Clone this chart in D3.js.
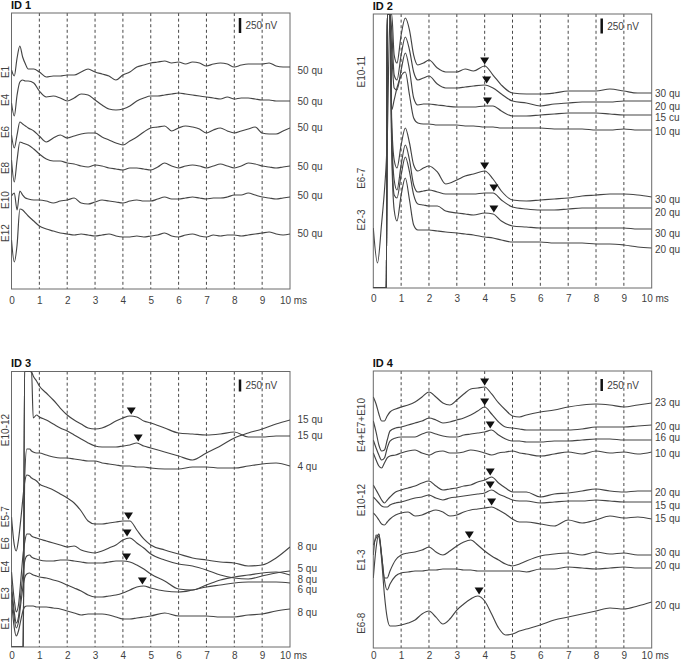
<!DOCTYPE html>
<html><head><meta charset="utf-8">
<script src="https://cdn.jsdelivr.net/npm/d3@7"></script>
<style>
body{margin:0;background:#fff;}
svg{display:block;font-family:"Liberation Sans",Arial,Helvetica,sans-serif;}
</style></head><body>
<svg id="chart" width="685" height="661"></svg>
<script>
// clipped stimulus-artifact levels (nV, far outside the plotted range)
const L = -6000, H = 6000;
const xTicks = [0,1,2,3,4,5,6,7,8,9,10];
const gridTicks = [1,2,3,4,5,6,7,8,9];

// ---------- ID 1 ----------
const T1 = [0,0.1,0.2,0.3,0.4,0.5,0.6,0.8,1,1.25,1.5,1.75,2,2.25,2.5,2.75,3,3.25,3.5,3.75,4,4.25,4.5,4.75,5,5.25,5.5,5.75,6,6.25,6.5,6.75,7,7.25,7.5,7.75,8,8.25,8.5,8.75,9,9.25,9.5,9.75,10];
const id1_E1  = [-50,-150,150,350,167,50,-33,-33,-83,-167,-150,-150,-133,-133,-83,-33,-83,-117,-150,-217,-133,-83,0,33,67,83,100,67,83,50,83,67,17,50,67,50,0,33,50,50,50,67,17,0,0];
const id1_E4  = [-33,-250,100,317,350,333,333,300,167,67,83,50,0,50,117,100,17,-67,-133,-150,-133,-83,0,50,83,83,100,117,133,117,100,83,67,50,33,67,33,50,50,33,17,17,0,0,0];
const id1_E6  = [-100,-317,-100,117,83,50,17,-33,-117,-217,-150,-100,-150,-117,-83,-67,-67,-133,-183,-233,-267,-200,-133,-50,17,33,50,-33,17,50,33,0,-67,-17,17,-33,-67,-33,0,33,-67,-83,-83,-33,17];
const id1_E8  = [100,-267,100,400,383,367,350,283,200,117,83,83,50,33,0,-17,17,0,-33,-50,-67,-33,-33,-50,-67,-17,50,0,-33,0,17,0,-33,0,33,0,-33,0,50,33,0,-17,-33,-17,0];
const id1_E10 = [17,67,-217,100,33,-17,-33,-50,-50,-67,-100,-67,-50,-17,-100,-117,-83,-50,-67,-83,-100,-67,-50,-67,-67,-33,0,-33,-33,-17,0,-17,-33,-17,-17,0,33,33,67,33,0,-17,-33,-17,0];
const id1_E12 = [-83,-450,-167,433,417,367,317,233,150,100,67,33,17,0,17,0,-17,0,17,-17,-33,-33,-17,-33,-17,0,33,-17,-33,0,17,-17,-33,0,-17,0,0,-17,0,17,33,50,17,0,17];
const id1Offsets = [-900,-1467,-1933,-2550,-3067,-3700];
const id1Labels  = ["50 qu","50 qu","50 qu","50 qu","50 qu","50 qu"];
const id1LabelShift = [-50,0,0,0,33,0];
const id1Groups  = [["E1",-983],["E4",-1450],["E6",-1983],["E8",-2583],["E10",-3117],["E12",-3667]];
const id1Markers = [];

// ---------- ID 2 ----------
const T2 = [0,0.15,0.3,0.42,0.47,0.5,0.6,0.66,0.75,0.85,1,1.15,1.3,1.45,1.6,1.8,2,2.3,2.6,3,3.3,3.6,4,4.3,4.6,5,5.5,6,6.5,7,7.5,8,8.5,9,9.5,10];
const id2_A = [L,L,L,L,L,H,H,1317,633,500,967,1250,1050,633,467,500,550,417,350,350,400,367,450,300,133,0,-17,-17,0,33,33,33,67,33,0,0];
const id2_B = [L,L,L,L,L,H,H,1183,433,350,767,1067,850,483,350,383,417,283,217,217,233,250,267,217,117,0,-33,-83,-50,-33,-17,-17,-17,0,0,0];
const id2_C = [L,L,L,L,L,H,H,1083,450,417,750,1033,750,283,167,183,183,167,150,133,133,133,150,150,67,-17,-17,0,17,33,33,33,17,0,0,0];
const id2_D = [L,L,L,L,L,H,H,333,500,700,900,967,583,200,117,100,100,83,83,83,67,67,50,50,33,33,33,33,17,17,17,0,0,17,0,0];
const id2_E = [L,L,L,L,L,H,H,1283,617,483,867,1150,900,533,433,483,517,417,217,283,350,383,433,300,100,-50,-67,-50,-33,-17,17,33,50,50,33,0];
const id2_F = [L,L,L,L,L,H,H,1300,467,300,717,1050,800,383,267,283,300,267,233,233,233,233,250,250,133,17,-17,-33,-33,-17,0,0,0,0,0,0];
const id2_G = [L,L,L,L,L,H,H,1483,567,517,900,1200,950,567,417,400,383,383,300,267,250,233,267,250,133,50,33,17,17,17,17,17,17,17,0,0];
const id2_H = [333,-250,417,1083,1467,1800,H,1633,633,450,883,1167,800,383,300,300,300,283,267,250,233,217,183,167,133,100,100,100,83,83,83,67,67,50,17,0];
const id2Offsets = [-1317,-1450,-1683,-1933,-3050,-3233,-3583,-3900];
const id2Labels  = ["30 qu","20 qu","15 cu","10 qu","30 qu","20 qu","30 qu","20 qu"];
const id2LabelShift = [0,-95,-45,-28,-38,-72,-72,-22];
const id2Groups  = [["E10-11",-962],["E6-7",-2738],["E2-3",-3433]];
const id2Markers = [[0,4.0,450],[1,4.07,267],[2,4.1,150],[4,4.0,433],[5,4.33,250],[6,4.33,250]];

// ---------- ID 3 ----------
const T3 = [0,0.1,0.17,0.25,0.35,0.42,0.47,0.55,0.65,0.72,0.78,0.9,1,1.25,1.5,1.75,2,2.25,2.5,2.75,3,3.25,3.5,3.75,4,4.25,4.5,4.75,5,5.5,6,6.5,7,7.5,8,8.5,9,9.5,10];
const id3_P2 = [L,L,L,L,L,L,H,H,H,H,42,104,63,0,-83,-167,-229,-313,-396,-479,-542,-563,-563,-563,-542,-521,-479,-542,-583,-667,-750,-833,-688,-542,-375,-271,-188,-83,0];
const id3_P1 = [L,L,L,L,L,L,H,H,H,1333,1250,1146,1042,896,750,583,438,333,250,167,146,167,229,313,375,417,396,313,271,167,63,42,21,42,83,-21,-21,0,0];
const id3_Q  = [L,L,L,L,L,L,-292,354,354,313,292,271,271,229,188,167,167,146,125,104,104,63,42,21,0,0,-21,-21,-42,-63,-63,-21,-21,-42,-42,0,42,63,0];
const id3_R  = [625,42,-83,146,667,1083,1333,1500,1479,1438,1417,1375,1313,1250,1188,1104,1021,917,750,542,479,479,500,521,542,542,354,167,42,-63,-146,-229,-271,-313,-333,-396,-375,-229,0];
const id3_S  = [-21,-604,-854,-708,-83,375,583,771,771,729,708,688,667,625,583,542,500,521,438,396,375,417,479,542,646,688,583,479,354,229,146,104,21,-83,-146,-167,-104,-42,0];
const id3_T  = [-208,-771,-1000,-875,-313,63,271,396,417,375,354,333,313,292,292,313,313,292,271,250,250,250,271,292,292,271,208,125,21,-125,-292,-313,-208,-104,-42,0,42,63,0];
const id3_U  = [-188,-729,-938,-813,-354,-42,104,188,208,188,167,146,125,104,63,21,-42,-104,-167,-250,-292,-292,-271,-250,-208,-146,-83,-63,-104,-167,-188,-146,-83,-42,0,21,21,21,0];
const id3_V  = [188,-396,-563,-458,-188,-21,42,63,63,63,63,42,42,42,21,0,-42,-83,-125,-104,-104,-104,-125,-167,-208,-208,-188,-167,-146,-83,-146,-146,-146,-167,-167,-125,-104,-42,0];
const id3Offsets = [-1010,-1344,-1969,-3656,-4156,-4240,-4406,-4948];
const id3Labels  = ["15 qu","15 qu","4 qu","8 qu","5 qu","8 qu","6 qu","8 qu"];
const id3LabelShift = [0,21,0,0,56,-83,-146,-77];
const id3Groups  = [["E10-12",-1219],["E5-7",-3025],["E6",-3579],["E4",-4067],["E3",-4621],["E1",-5246]];
const id3Markers = [[1,4.3,417],[0,4.55,-479],[3,4.2,542],[4,4.15,688],[5,4.13,271],[6,4.7,-63]];

// ---------- ID 4 ----------
const T4 = [0,0.1,0.2,0.3,0.4,0.5,0.6,0.8,1,1.25,1.5,1.75,2,2.25,2.5,2.75,3,3.25,3.5,3.75,4,4.25,4.5,4.75,5,5.25,5.5,6,6.5,7,7.5,8,8.5,9,9.5,10];
const id4_a = [167,21,-188,-333,-333,-229,-146,-83,-42,0,63,167,271,167,42,0,104,229,333,354,375,229,42,-104,-229,-250,-208,-146,-104,-42,0,21,0,-42,0,42];
const id4_b = [83,-146,-417,-542,-521,-313,-125,-63,-42,0,42,83,146,104,42,63,104,146,208,292,375,229,63,-42,-63,-83,-104,-104,-104,-104,-83,-42,-42,-42,-21,0];
const id4_c = [0,-167,-313,-417,-375,-167,-21,42,63,63,63,125,167,125,83,63,63,104,125,146,167,208,104,21,-21,-21,-42,-42,-21,-21,0,21,21,0,0,0];
const id4_d = [0,-146,-271,-313,-208,-104,-63,-42,0,42,63,0,-42,21,42,0,0,21,63,42,0,-42,0,21,42,0,-21,-63,-21,21,-21,42,0,21,-21,21];
const id4_e = [125,21,-83,-188,-250,-188,-125,-21,21,63,104,167,208,104,21,42,63,104,125,188,229,292,167,63,-21,-21,-21,-125,-63,-42,0,42,0,-21,0,0];
const id4_f = [104,42,-21,-83,-104,-104,-63,-21,0,42,83,104,146,83,42,83,104,125,146,167,188,250,167,104,42,21,21,-21,0,21,21,42,21,0,0,0];
const id4_g = [146,83,0,-83,-104,-42,21,104,146,167,83,104,167,208,167,83,104,167,208,229,250,271,208,125,21,-42,-42,-83,-125,0,-63,0,83,42,63,21];
const id4_h = [0,417,375,-21,-479,-479,-333,-104,0,42,63,104,167,63,0,83,188,271,313,208,83,-21,-104,-188,-229,-188,-125,-21,21,42,0,63,21,42,0,0];
const id4_i = [-208,417,708,271,-250,-458,-333,-167,-104,-83,-63,-63,-42,-42,-21,-21,-21,-42,-42,-63,-63,-63,-63,-63,-63,-63,-83,-21,-21,21,0,-21,0,21,0,0];
const id4_j = [1188,1333,1417,875,146,-333,-500,-500,-479,-438,-375,-250,-188,-313,-458,-354,-167,-42,63,125,21,-250,-542,-688,-667,-604,-563,-479,-375,-313,-250,-188,-125,-146,-83,0];
const id4Offsets = [-708,-1125,-1438,-1708,-2500,-2729,-3104,-3833,-4104,-4813];
const id4Labels  = ["23 qu","20 qu","16 qu","10 qu","20 qu","15 qu","15 qu","30 qu","20 qu","20 qu"];
const id4LabelShift = [0,-21,63,-42,-21,-63,0,48,42,-63];
const id4Groups  = [["E4+E7+E10",-1125],["E10-12",-2688],["E1-3",-3938],["E6-8",-5256]];
const id4Markers = [[0,4.0,375],[1,4.0,375],[2,4.2,208],[4,4.2,292],[5,4.2,250],[6,4.25,271],[7,3.45,313],[9,3.8,125]];

// ---------- layout ----------
const layout = [
  {x0:11.5,  x1:290,   top:13,    bottom:289, barPx:15, pad:8, labX:297.5, grpX:8.5,   barTop:5},
  {x0:373.3, x1:651.7, top:14,    bottom:288, barPx:15, pad:7, labX:655,   grpX:364.5, barTop:4.5},
  {x0:11.5,  x1:290,   top:371.5, bottom:647, barPx:12, pad:5, labX:297.5, grpX:8.5,   barTop:8},
  {x0:373.3, x1:651.7, top:371,   bottom:648, barPx:12, pad:4, labX:655,   grpX:364.5, barTop:8}
];

const panels = [
  {title:"ID 1", time:T1, traces:[id1_E1,id1_E4,id1_E6,id1_E8,id1_E10,id1_E12], offsets:id1Offsets, labels:id1Labels, shifts:id1LabelShift, groups:id1Groups, markers:id1Markers},
  {title:"ID 2", time:T2, traces:[id2_A,id2_B,id2_C,id2_D,id2_E,id2_F,id2_G,id2_H], offsets:id2Offsets, labels:id2Labels, shifts:id2LabelShift, groups:id2Groups, markers:id2Markers},
  {title:"ID 3", time:T3, traces:[id3_P2,id3_P1,id3_Q,id3_R,id3_S,id3_T,id3_U,id3_V], offsets:id3Offsets, labels:id3Labels, shifts:id3LabelShift, groups:id3Groups, markers:id3Markers},
  {title:"ID 4", time:T4, traces:[id4_a,id4_b,id4_c,id4_d,id4_e,id4_f,id4_g,id4_h,id4_i,id4_j], offsets:id4Offsets, labels:id4Labels, shifts:id4LabelShift, groups:id4Groups, markers:id4Markers}
];

const svg = d3.select("#chart");
const TRACE = "#444", TEXT = "#3f3f3f";

panels.forEach((p, pi) => {
  const Ly = layout[pi];
  const x = d3.scaleLinear().domain([0,10]).range([Ly.x0, Ly.x1]);
  const nvPerPx = 250 / Ly.barPx;
  const y = d3.scaleLinear().domain([-(Ly.bottom - Ly.top) * nvPerPx, 0]).range([Ly.bottom, Ly.top]).clamp(true);
  const g = svg.append("g");
  const clipId = "clip" + pi;
  g.append("clipPath").attr("id", clipId).append("rect")
    .attr("x", Ly.x0).attr("y", Ly.top).attr("width", Ly.x1 - Ly.x0).attr("height", Ly.bottom - Ly.top);

  // dashed time grid
  g.selectAll("line.grid").data(gridTicks).enter().append("line")
    .attr("x1", d => x(d)).attr("x2", d => x(d)).attr("y1", Ly.top).attr("y2", Ly.bottom)
    .attr("stroke", "#333").attr("stroke-width", 0.9).attr("stroke-dasharray", "3,2.6");

  // frame
  g.append("rect").attr("x", Ly.x0).attr("y", Ly.top).attr("width", Ly.x1 - Ly.x0).attr("height", Ly.bottom - Ly.top)
    .attr("fill", "none").attr("stroke", "#6a6a6a").attr("stroke-width", 1);

  // axis labels
  const ax = d3.axisBottom(x).tickValues(xTicks).tickSize(0).tickPadding(Ly.pad)
    .tickFormat(d => d === 10 ? "10 ms" : String(d));
  const axg = g.append("g").attr("transform", `translate(0,${Ly.bottom})`).call(ax);
  axg.select(".domain").remove();
  axg.selectAll("text").attr("font-size", 10).attr("fill", TEXT)
    .attr("font-family", '"Liberation Sans",Arial,sans-serif')
    .attr("dx", d => d === 10 ? 3 : 0);

  // traces
  const line = d3.line().x((d, i) => x(p.time[i])).y(d => y(d)).curve(d3.curveMonotoneX);
  const tg = g.append("g").attr("clip-path", `url(#${clipId})`);
  p.traces.forEach((vals, k) => {
    tg.append("path").attr("d", line(vals.map(v => p.offsets[k] + v)))
      .attr("fill", "none").attr("stroke", TRACE).attr("stroke-width", 1.15).attr("stroke-linejoin", "round");
  });

  // peak markers
  p.markers.forEach(([k, t, v]) => {
    const mx = x(t), my = y(p.offsets[k] + v) - 1.5;
    g.append("path").attr("d", `M${mx},${my} L${mx - 4.5},${my - 7} L${mx + 4.5},${my - 7} Z`).attr("fill", "#111");
  });

  // right labels
  p.traces.forEach((vals, k) => {
    g.append("text").attr("x", Ly.labX).attr("y", y(p.offsets[k] + vals[vals.length - 1] + p.shifts[k]))
      .attr("dy", "0.35em").attr("font-size", 10).attr("fill", TEXT).text(p.labels[k]);
  });

  // left group labels (rotated)
  p.groups.forEach(([name, lvl]) => {
    const gy = y(lvl);
    g.append("text").attr("transform", `translate(${Ly.grpX},${gy}) rotate(-90)`)
      .attr("text-anchor", "middle").attr("font-size", 10).attr("fill", TEXT).text(name);
  });

  // scale bar 250 nV
  const bx = Ly.x1 - 50, by0 = Ly.top + Ly.barTop, by1 = by0 + Math.abs(y(-250) - y(0));
  g.append("line").attr("x1", bx).attr("x2", bx).attr("y1", by0).attr("y2", by1)
    .attr("stroke", "#111").attr("stroke-width", 2.5);
  g.append("text").attr("x", bx + 5.5).attr("y", (by0 + by1) / 2).attr("dy", "0.35em")
    .attr("font-size", 10).attr("fill", TEXT).text("250 nV");

  // title
  g.append("text").attr("x", Ly.x0 - 0.5).attr("y", Ly.top - 4.5).attr("font-size", 11).attr("font-weight", "bold")
    .attr("fill", "#111").text(p.title);
});
</script>
</body></html>
